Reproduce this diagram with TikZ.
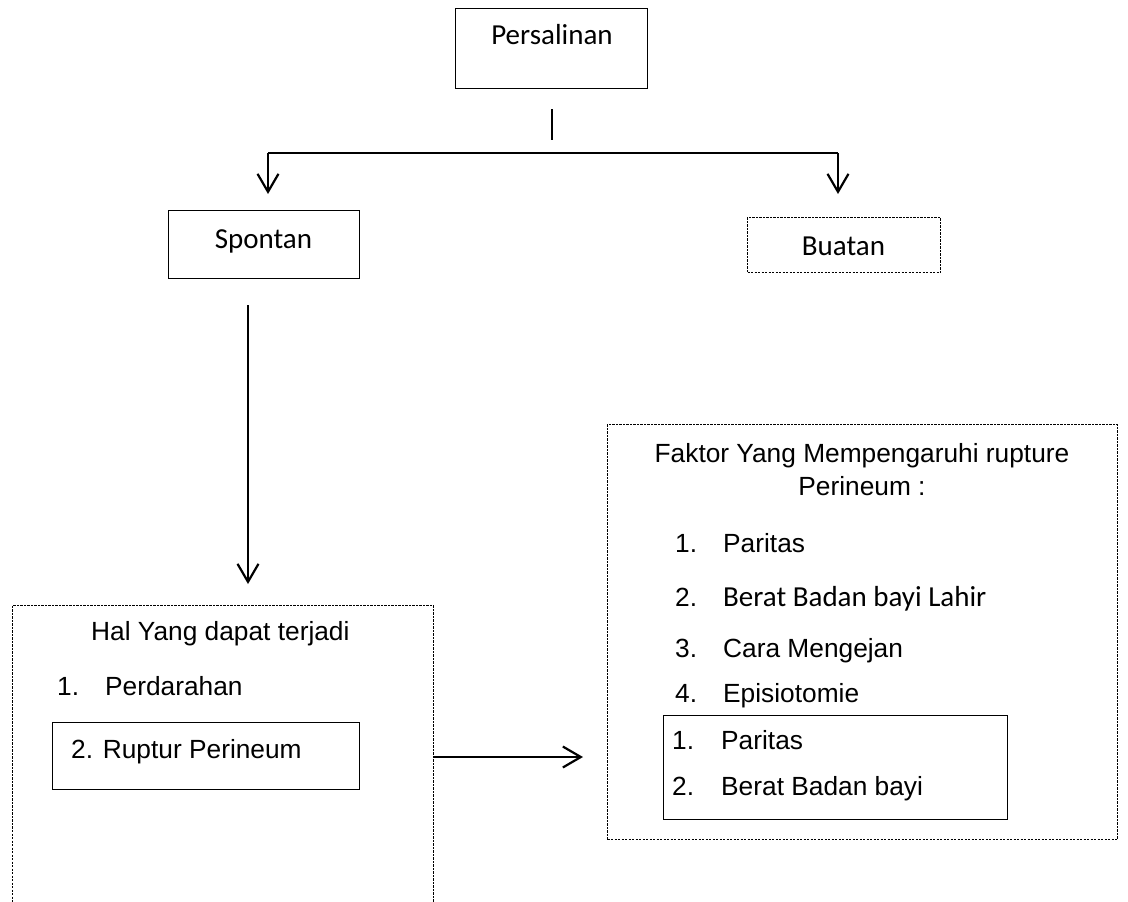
\documentclass[tikz,border=0pt]{standalone}
\usepackage{fontspec}
\setmainfont{Liberation Sans}
\newfontfamily\calfont{Carlito}
\usetikzlibrary{arrows.meta}
\begin{document}
\begin{tikzpicture}[x=1pt,y=-1pt,
  solidbox/.style={draw, line width=1.2pt, inner sep=0pt, anchor=north west},
  dotbox/.style={draw, line width=1pt, dash pattern=on 2.2pt off 1.3pt, inner sep=0pt, anchor=north west},
  conn/.style={line width=2.4pt},
  arr/.style={line width=2.3pt, -{Straight Barb[length=18pt,width=21pt,line width=2.2pt]}},
  ar/.style={font=\fontsize{26.3}{30}\selectfont, inner sep=0pt, anchor=base west},
  arc/.style={font=\fontsize{26.3}{30}\selectfont, inner sep=0pt, anchor=base},
  cb/.style={font=\calfont\fontsize{29}{33}\selectfont, inner sep=0pt, anchor=base},
  cbw/.style={font=\calfont\fontsize{29}{33}\selectfont, inner sep=0pt, anchor=base west}]
\useasboundingbox (0,0) rectangle (1128,902);

% top box
\node[solidbox, minimum width=192pt, minimum height=80pt] (pers) at (455,8) {};
\node[cb] (perst) at (552,45) {Persalinan};
\coordinate (s1) at (552,109);
\coordinate (s2) at (552,140);
\draw[line width=1.6pt] (s1) -- (s2);

% second level
\node[solidbox, minimum width=191pt, minimum height=68pt] (spon) at (168,210) {};
\node[cb] (spont) at (263.5,248) {Spontan};
\node[dotbox, minimum width=193pt, minimum height=55pt] (buat) at (747,217) {};
\node[cb] (buatt) at (843.5,255) {Buatan};

\coordinate (hl) at (268,153);
\coordinate (hr) at (838,153);
\draw[conn] (hl) -- (hr);
\draw[arr] (hl) -- (hl |- 0,194);
\draw[arr] (hr) -- (hr |- 0,194);

% long arrow
\coordinate (v1) at (248,305);
\coordinate (v2) at (248,584);
\draw[arr] (v1) -- (v2);

% left box
\node[dotbox, minimum width=421pt, minimum height=330pt] (lbox) at (12,605) {};
\node[ar] (halt) at (91,640) {Hal Yang dapat terjadi};
\node[ar] (l1n) at (57,695) {1.};
\node[ar] (l1t) at (105,695) {Perdarahan};
\node[solidbox, minimum width=307pt, minimum height=67pt] (rupt) at (52,722) {};
\node[ar] (ruptt) at (71,758) {2. Ruptur Perineum};

% right box
\node[dotbox, minimum width=510pt, minimum height=415pt] (rbox) at (607,424) {};
\node[arc] (ft1) at (862,462) {Faktor Yang Mempengaruhi rupture};
\node[arc] (ft2) at (862,495) {Perineum :};
\node[ar] (r1n) at (675,552) {1.};
\node[ar] (r1t) at (723,552) {Paritas};
\node[ar] (r2n) at (675,606) {2.};
\node[cbw] (r2t) at (723,606) {Berat Badan bayi Lahir};
\node[ar] (r3n) at (675,657) {3.};
\node[ar] (r3t) at (723,657) {Cara Mengejan};
\node[ar] (r4n) at (675,702) {4.};
\node[ar] (r4t) at (723,702) {Episiotomie};
\node[solidbox, minimum width=344pt, minimum height=104pt] (ibox) at (663,715) {};
\node[ar] (i1n) at (672,749) {1.};
\node[ar] (i1t) at (721,749) {Paritas};
\node[ar] (i2n) at (672,795) {2.};
\node[ar] (i2t) at (721,795) {Berat Badan bayi};

% horizontal arrow
\draw[arr, shorten >=24pt] (lbox.east |- 0,757) -- (rbox.west |- 0,757);
\end{tikzpicture}
\end{document}
